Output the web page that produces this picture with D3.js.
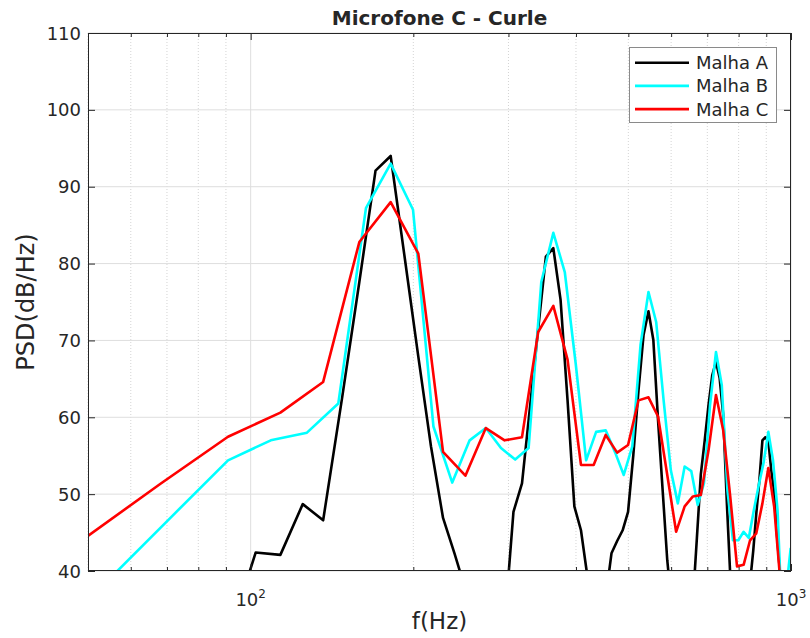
<!DOCTYPE html>
<html>
<head>
<meta charset="utf-8">
<script src="https://cdn.jsdelivr.net/npm/d3@7/dist/d3.min.js"></script>
<style>
  html, body { margin: 0; padding: 0; background: #fff; }
  svg { display: block; }
  text { font-family: "DejaVu Sans", sans-serif; fill: #262626; }
</style>
</head>
<body>
<svg id="chart" width="810" height="638"></svg>
<script>
// Power spectral density at microphone C (Curle analogy), three mesh refinements.

const titleText = "Microfone C - Curle";
const xLabel = "f(Hz)";
const yLabel = "PSD(dB/Hz)";
const seriesNames = ["Malha A", "Malha B", "Malha C"];
const seriesColors = ["#000000", "#00ffff", "#ff0000"];

const yTicks = [40, 50, 60, 70, 80, 90, 100, 110];
const xMajorTicks = [100, 1000];
const xMajorExponents = ["2", "3"];
const xMinorTicks = [50, 60, 70, 80, 90, 200, 300, 400, 500, 600, 700, 800, 900];

// Malha A
const freqA = [90.80, 102.15, 113.50, 124.85, 136.20, 147.55, 158.90, 170.25, 181.60, 192.95,
  204.30, 215.65, 227.00, 238.35, 249.70, 261.05, 272.40, 283.75, 295.10, 306.45,
  317.80, 329.15, 340.50, 351.85, 363.20, 374.55, 385.90, 397.25, 408.60, 419.95,
  431.30, 442.65, 454.00, 465.35, 476.70, 488.05, 499.40, 510.75, 522.10, 533.45,
  544.80, 556.15, 567.50, 578.85, 590.20, 601.55, 612.90, 624.25, 635.60, 646.95,
  658.30, 669.65, 681.00, 692.35, 703.70, 715.05, 726.40, 737.75, 749.10, 760.45,
  771.80, 783.15, 794.50, 805.85, 817.20, 828.55, 839.90, 851.25, 862.60, 873.95,
  885.30, 896.65, 908.00, 919.35, 930.70, 942.05, 953.40, 964.75, 976.10, 987.45, 998.80];
const psdA = [31.0, 42.4, 42.1, 48.7, 46.6, 62.4, 77.6, 92.1, 94.0, 80.6,
  67.9, 56.2, 46.9, 42.3, 37.6, 33.5, 30.8, 30.2, 33.0, 47.7,
  51.4, 61.6, 71.5, 80.9, 82.0, 75.3, 62.2, 48.4, 45.3, 39.3,
  34.5, 33.0, 36.5, 42.3, 43.9, 45.3, 47.7, 55.1, 63.5, 70.7,
  73.8, 70.1, 59.6, 50.4, 41.4, 35.5, 32.0, 31.0, 31.5, 33.0,
  36.0, 44.3, 52.6, 57.0, 61.6, 65.5, 67.2, 65.1, 60.3, 49.2,
  39.5, 35.0, 32.5, 32.0, 33.5, 36.5, 38.5, 42.6, 47.5, 51.8,
  57.0, 57.4, 56.9, 53.1, 50.3, 44.7, 40.1, 35.0, 32.0, 31.0, 30.5];

// Malha B
const freqB = [54.48, 72.64, 90.80, 108.96, 127.12, 145.28, 163.44, 181.60, 199.76, 217.92,
  236.08, 254.24, 272.40, 290.56, 308.72, 326.88, 345.04, 363.20, 381.36, 399.52,
  417.68, 435.84, 454.00, 472.16, 490.32, 508.48, 526.64, 544.80, 562.96, 581.12,
  599.28, 617.44, 635.60, 653.76, 671.92, 690.08, 708.24, 726.40, 744.56, 762.72,
  780.88, 799.04, 817.20, 835.36, 853.52, 871.68, 889.84, 908.00, 926.16, 944.32,
  962.48, 980.64, 998.80];
const psdB = [38.8, 47.6, 54.4, 57.0, 58.0, 61.8, 87.2, 93.0, 87.0, 58.8,
  51.5, 57.0, 58.6, 56.0, 54.5, 56.0, 77.6, 84.0, 78.9, 67.0,
  54.4, 58.1, 58.3, 55.5, 52.5, 56.2, 69.4, 76.3, 72.4, 62.2,
  53.1, 48.8, 53.6, 53.0, 48.6, 51.4, 61.6, 68.5, 64.2, 50.5,
  44.0, 44.0, 45.1, 44.3, 47.9, 51.2, 54.1, 58.1, 54.4, 47.9,
  33.6, 37.8, 43.0];

// Malha C
const freqC = [45.40, 68.10, 90.80, 113.50, 136.20, 158.90, 181.60, 204.30, 227.00, 249.70,
  272.40, 295.10, 317.80, 340.50, 363.20, 385.90, 408.60, 431.30, 454.00, 476.70,
  499.40, 522.10, 544.80, 567.50, 590.20, 612.90, 635.60, 658.30, 681.00, 703.70,
  726.40, 749.10, 771.80, 794.50, 817.20, 839.90, 862.60, 885.30, 908.00, 930.70,
  953.40, 976.10, 998.80];
const psdC = [42.46, 51.35, 57.47, 60.6, 64.6, 82.8, 88.0, 81.3, 55.5, 52.4,
  58.6, 57.0, 57.4, 71.1, 74.5, 67.5, 53.8, 53.8, 57.7, 55.4,
  56.4, 62.2, 62.6, 60.1, 52.5, 45.1, 48.4, 49.7, 49.9, 55.7,
  62.9, 58.3, 49.7, 40.6, 40.8, 44.0, 44.9, 48.8, 53.4, 48.4,
  39.5, 35.0, 32.0];

const series = [
  { name: seriesNames[0], color: seriesColors[0], f: freqA, v: psdA },
  { name: seriesNames[1], color: seriesColors[1], f: freqB, v: psdB },
  { name: seriesNames[2], color: seriesColors[2], f: freqC, v: psdC }
];

const plot = { left: 88, right: 791, top: 33, bottom: 571 };

const svg = d3.select("#chart");
const x = d3.scaleLog().domain([50, 1000]).range([plot.left, plot.right]);
const y = d3.scaleLinear().domain([40, 110]).range([plot.bottom, plot.top]);

svg.append("defs").append("clipPath").attr("id", "plotClip")
  .append("rect")
  .attr("x", plot.left).attr("y", plot.top)
  .attr("width", plot.right - plot.left).attr("height", plot.bottom - plot.top);

// grid
const grid = svg.append("g");
grid.selectAll("line.minor").data(xMinorTicks).join("line")
  .attr("x1", d => x(d)).attr("x2", d => x(d))
  .attr("y1", plot.top).attr("y2", plot.bottom)
  .attr("stroke", "#d4d4d4").attr("stroke-width", 1).attr("stroke-dasharray", "1,2");
grid.selectAll("line.xmajor").data(xMajorTicks).join("line")
  .attr("x1", d => x(d)).attr("x2", d => x(d))
  .attr("y1", plot.top).attr("y2", plot.bottom)
  .attr("stroke", "#dedede").attr("stroke-width", 1);
grid.selectAll("line.ymajor").data(yTicks).join("line")
  .attr("x1", plot.left).attr("x2", plot.right)
  .attr("y1", d => y(d)).attr("y2", d => y(d))
  .attr("stroke", "#dedede").attr("stroke-width", 1);

// series
const line = d3.line().x(d => x(d[0])).y(d => y(d[1]));
const lines = svg.append("g").attr("clip-path", "url(#plotClip)");
series.forEach(s => {
  lines.append("path")
    .datum(s.f.map((f, i) => [f, s.v[i]]))
    .attr("fill", "none")
    .attr("stroke", s.color)
    .attr("stroke-width", 2.6)
    .attr("stroke-linejoin", "round")
    .attr("d", line);
});

// axes box with inward ticks
const frame = svg.append("g").attr("stroke", "#262626").attr("stroke-width", 1).attr("fill", "none");
frame.append("rect")
  .attr("x", plot.left + 0.5).attr("y", plot.top + 0.5)
  .attr("width", plot.right - plot.left - 1).attr("height", plot.bottom - plot.top - 1);

const axBottom = d3.axisBottom(x).tickValues(xMajorTicks).tickSizeInner(-7).tickSizeOuter(0).tickFormat("");
const axTop = d3.axisTop(x).tickValues(xMajorTicks).tickSizeInner(-7).tickSizeOuter(0).tickFormat("");
const axBottomMinor = d3.axisBottom(x).tickValues(xMinorTicks).tickSizeInner(-4).tickSizeOuter(0).tickFormat("");
const axTopMinor = d3.axisTop(x).tickValues(xMinorTicks).tickSizeInner(-4).tickSizeOuter(0).tickFormat("");
const axLeft = d3.axisLeft(y).tickValues(yTicks).tickSizeInner(-7).tickSizeOuter(0).tickFormat("");
const axRight = d3.axisRight(y).tickValues(yTicks).tickSizeInner(-7).tickSizeOuter(0).tickFormat("");

function drawAxis(ax, tx, ty) {
  const g = svg.append("g").attr("transform", `translate(${tx},${ty})`).call(ax);
  g.select(".domain").remove();
  g.selectAll(".tick line").attr("stroke", "#262626");
}
drawAxis(axBottom, 0, plot.bottom);
drawAxis(axBottomMinor, 0, plot.bottom);
drawAxis(axTop, 0, plot.top);
drawAxis(axTopMinor, 0, plot.top);
drawAxis(axLeft, plot.left, 0);
drawAxis(axRight, plot.right, 0);

// tick labels
svg.append("g").selectAll("text").data(yTicks).join("text")
  .attr("x", plot.left - 7).attr("y", d => y(d))
  .attr("text-anchor", "end").attr("dominant-baseline", "central")
  .attr("font-size", 18)
  .text(d => d);

const xl = svg.append("g").selectAll("text").data(xMajorTicks).join("text")
  .attr("x", d => x(d)).attr("y", 606)
  .attr("text-anchor", "middle")
  .attr("font-size", 18);
xl.append("tspan").text("10");
xl.append("tspan").attr("dy", -8).attr("font-size", 12).text((d, i) => xMajorExponents[i]);

// titles
svg.append("text")
  .attr("x", (plot.left + plot.right) / 2).attr("y", 25)
  .attr("text-anchor", "middle").attr("font-weight", "bold").attr("font-size", 20)
  .attr("fill", "#000")
  .text(titleText);

svg.append("text")
  .attr("x", (plot.left + plot.right) / 2).attr("y", 629)
  .attr("text-anchor", "middle").attr("font-size", 23)
  .text(xLabel);

svg.append("text")
  .attr("transform", `translate(34,${(plot.top + plot.bottom) / 2}) rotate(-90)`)
  .attr("text-anchor", "middle").attr("font-size", 24)
  .text(yLabel);

// legend
const legend = svg.append("g");
legend.append("rect")
  .attr("x", 629.5).attr("y", 47.5).attr("width", 147).attr("height", 75)
  .attr("fill", "#fff").attr("stroke", "#8a8a8a").attr("stroke-width", 1);
const rows = legend.selectAll("g.row").data(series).join("g")
  .attr("transform", (d, i) => `translate(0,${62.7 + i * 23.2})`);
rows.append("line")
  .attr("x1", 635).attr("x2", 689).attr("y1", 0).attr("y2", 0)
  .attr("stroke", d => d.color).attr("stroke-width", 2.6);
rows.append("text")
  .attr("x", 696).attr("y", 0).attr("dominant-baseline", "central")
  .attr("font-size", 18).attr("fill", "#000")
  .text(d => d.name);
</script>
</body>
</html>
